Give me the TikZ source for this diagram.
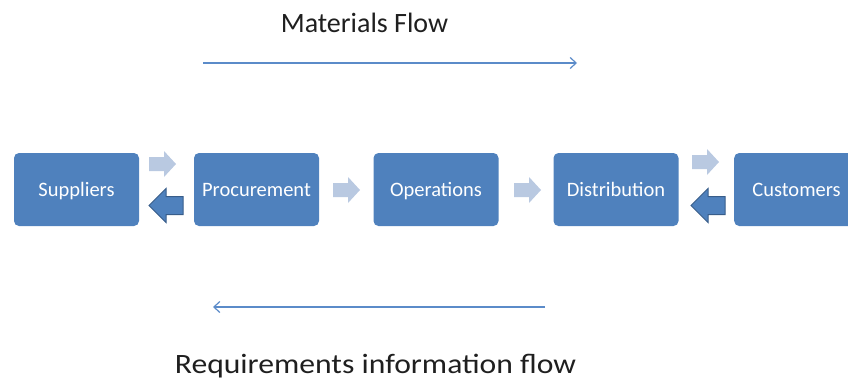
\documentclass[tikz,border=0pt]{standalone}
\usepackage{fontspec}
\setmainfont{Carlito}
\usetikzlibrary{arrows.meta}
\definecolor{boxblue}{HTML}{4F81BD}
\definecolor{boxedge}{HTML}{385D8A}
\definecolor{lightarr}{HTML}{B9C9E1}
\definecolor{flowline}{HTML}{5B8BC9}
\definecolor{txt}{HTML}{1F1F1F}
\newcommand{\lightblk}[2]{%
  \fill[lightarr] (#1,#2-7) -- (#1+15,#2-7) -- (#1+15,#2-13) -- (#1+27,#2) -- (#1+15,#2+13)
    -- (#1+15,#2+7) -- (#1,#2+7) -- cycle;}
\newcommand{\darkblk}[2]{%
  \filldraw[fill=boxblue,draw=boxedge,line width=1pt,line join=miter]
    (#1,#2) -- (#1+17,#2-17) -- (#1+17,#2-9) -- (#1+34,#2-9) -- (#1+34,#2+9)
    -- (#1+17,#2+9) -- (#1+17,#2+17) -- cycle;}
\begin{document}
\begin{tikzpicture}[x=1pt,y=-1pt,
  boxfont/.style={text=white,font=\fontsize{20.5}{24}\selectfont,text height=13.2pt,text depth=0pt},
  stage/.style={fill=boxblue,rounded corners=5pt,minimum width=125pt,minimum height=73pt,
    inner sep=0pt,boxfont},
  flowarrow/.style={draw=flowline,line width=1.2pt,-{Straight Barb[length=6pt,width=11pt]}},
  title/.style={text=txt,anchor=base,inner sep=0pt}]
\useasboundingbox (0,0) rectangle (848,381);
\begin{scope}
\clip (0,0) rectangle (848,381);
\node[stage] (sup) at (76.5,189.5) {Suppliers};
\node[stage] (pro) at (256.5,189.5) {Procurement};
\node[stage] (ope) at (436,189.5) {Operations};
\node[stage] (dis) at (616,189.5) {Distribution};
\node[stage,anchor=west] (cus) at (734,189.5) {};
\node[boxfont,inner sep=0pt] (cust) at (796.5,189.5) {Customers};
\end{scope}
% light forward arrows
\lightblk{149}{164}
\lightblk{333}{190}
\lightblk{514}{190}
\lightblk{692}{162}
% dark backward arrows
\darkblk{149}{205.5}
\darkblk{691}{205.5}
% flows
\coordinate (m1) at (203,63);
\coordinate (m2) at (577,63);
\coordinate (r1) at (545,307);
\coordinate (r2) at (213,307);
\draw[flowarrow] (m1) -- (m2);
\draw[flowarrow] (r1) -- (r2);
\node[title,font=\fontsize{28}{33}\selectfont] (mat) at (364.5,32) {Materials Flow};
\node[title,font=\fontsize{28}{33}\selectfont] (req) at (375.5,373.5) {\scalebox{1.13}[1]{Requirements information flow}};
\end{tikzpicture}
\end{document}
